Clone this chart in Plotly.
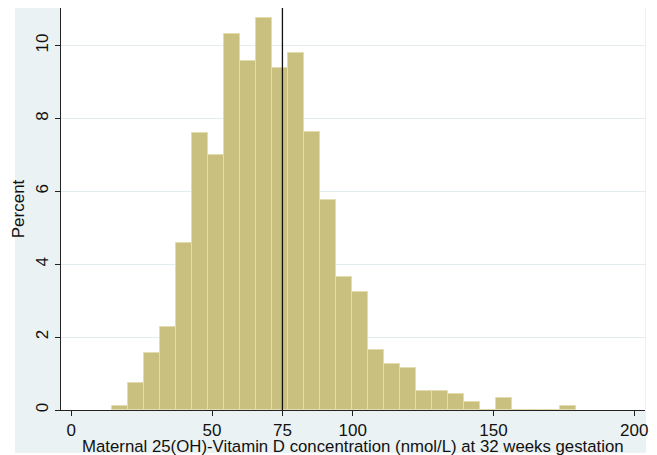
import plotly.graph_objects as go

# Histogram data (percent per bin)
bin_start = 14.45
bin_width = 5.681
percent = [0.11, 0.73, 1.57, 2.29, 4.59, 7.61, 7.00, 10.33, 9.58, 10.75,
           9.39, 9.80, 7.62, 5.76, 3.64, 3.25, 1.66, 1.26, 1.14, 0.52,
           0.52, 0.43, 0.21, 0.0, 0.32, 0.0, 0.0, 0.0, 0.11]
ref_line = 75
x_ticks = [0, 50, 75, 100, 150, 200]
y_ticks = [0, 2, 4, 6, 8, 10]
x_title = "Maternal 25(OH)-Vitamin D concentration (nmol/L) at 32 weeks gestation"
y_title = "Percent"

centers = [bin_start + bin_width * (i + 0.5) for i in range(len(percent))]

FONT = "Arial, Liberation Sans, Helvetica, sans-serif"
BG = "#eaf2f3"

fig = go.Figure()
fig.add_trace(go.Bar(
    x=centers, y=percent, width=bin_width,
    marker=dict(color="#c9bf7f", line=dict(color="#e2dcae", width=1)),
    hoverinfo="x+y",
))

fig.update_layout(
    template="none",
    width=657, height=455,
    margin=dict(l=53, r=20, t=0, b=53, autoexpand=False),
    paper_bgcolor="white",
    plot_bgcolor="white",
    showlegend=False,
    bargap=0,
    font=dict(family=FONT, size=17, color="#111111"),
    shapes=[
        dict(type="rect", xref="paper", yref="paper", x0=-0.0788, x1=1.0017,
             y0=-0.107, y1=1.0025, fillcolor=BG, line=dict(width=0), layer="below"),
        dict(type="rect", xref="paper", yref="paper", x0=0, x1=1, y0=0, y1=1,
             fillcolor="white", line=dict(width=0), layer="below"),
        dict(type="line", xref="x", yref="paper", x0=ref_line, x1=ref_line,
             y0=0, y1=1, line=dict(color="#111111", width=1.3), layer="above"),
    ],
    annotations=[
        dict(text=x_title, xref="paper", yref="paper", x=0.5, y=-0.0896,
             xanchor="center", yanchor="middle", showarrow=False,
             font=dict(size=16.8)),
    ],
)

fig.update_xaxes(
    automargin=False,
    range=[-3.66, 203.8],
    tickvals=x_ticks, ticktext=[str(v) for v in x_ticks],
    ticks="outside", ticklen=5, tickcolor="#222222", tickwidth=1,
    showline=True, linecolor="#222222", linewidth=1,
    showgrid=False, zeroline=False,
    tickfont=dict(size=17),
)
fig.update_yaxes(
    automargin=False,
    range=[0, 11.03],
    tickvals=y_ticks, ticktext=[str(v) for v in y_ticks],
    tickangle=-90,
    ticks="outside", ticklen=5, tickcolor="#222222", tickwidth=1,
    showline=True, linecolor="#222222", linewidth=1,
    showgrid=True, gridcolor="#e3ecee", gridwidth=1,
    zeroline=False,
    title=dict(text=y_title, font=dict(size=17), standoff=4),
    tickfont=dict(size=17),
)

fig.write_html("out.html")
